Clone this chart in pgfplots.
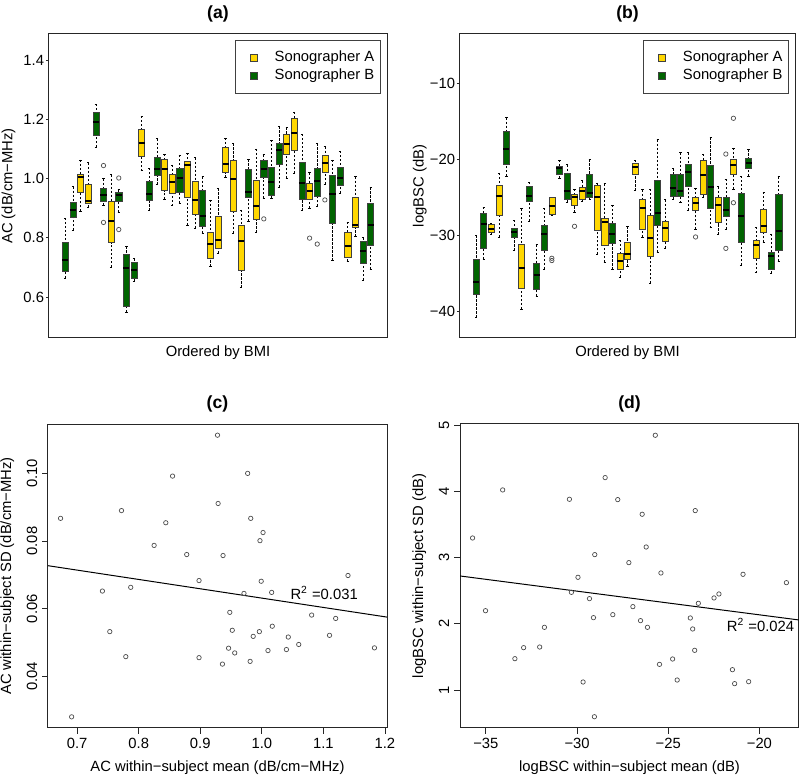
\documentclass[border=0pt]{standalone}
\usepackage{fontspec}
\setmainfont{Liberation Sans}
\usepackage{pgfplots}
\pgfplotsset{compat=1.18}
\usepgfplotslibrary{statistics}
\definecolor{Ygold}{RGB}{255,215,0}
\definecolor{Dgreen}{RGB}{0,100,0}
\newcommand{\fs}{\fontsize{7.4}{8.5}\selectfont}
\newcommand{\ft}{\fontsize{8.8}{10}\selectfont\bfseries}

\pgfplotsset{
  boxplot/draw/lower whisker/.code={%
    \draw[black, line width=0.35pt, dash pattern=on 1.1pt off 0.9pt]
      (boxplot box cs:\pgfplotsboxplotvalue{lower whisker},0.5) --
      (boxplot box cs:\pgfplotsboxplotvalue{lower quartile},0.5);
    \draw[black, line width=0.4pt, solid]
      (boxplot whisker cs:\pgfplotsboxplotvalue{lower whisker},0) --
      (boxplot whisker cs:\pgfplotsboxplotvalue{lower whisker},1);
  },
  boxplot/draw/upper whisker/.code={%
    \draw[black, line width=0.35pt, dash pattern=on 1.1pt off 0.9pt]
      (boxplot box cs:\pgfplotsboxplotvalue{upper whisker},0.5) --
      (boxplot box cs:\pgfplotsboxplotvalue{upper quartile},0.5);
    \draw[black, line width=0.4pt, solid]
      (boxplot whisker cs:\pgfplotsboxplotvalue{upper whisker},0) --
      (boxplot whisker cs:\pgfplotsboxplotvalue{upper whisker},1);
  },
  Rax/.style={scale only axis, height=152pt,
    axis line style={black!85, line width=0.5pt},
    tick align=outside, tick pos=left,
    every tick/.style={black!85, line width=0.4pt},
    tick label style={font=\fs}, label style={font=\fs},
    every axis title/.style={font=\ft, at={(axis description cs:0.5,1.067)}, anchor=center},
    ylabel style={at={(axis description cs:-0.12,0.5)}, anchor=center},
    /pgf/number format/assume math mode=true},
  Rbox/.style={Rax, xmin=-1.14, xmax=43.14, xtick=\empty,
    major tick length=1.5pt,
    yticklabel style={anchor=east, inner sep=0.8pt},
    xlabel={Ordered by BMI},
    xlabel style={at={(axis description cs:0.5,-0.049)}, anchor=center},
    legend cell align=left,
    legend style={anchor=north east, draw=black!75, line width=0.5pt, font=\fs,
      inner xsep=3pt, inner ysep=5.3pt, nodes={inner sep=0pt},
      column sep=2pt, row sep=2.1pt}},
  Rsc/.style={Rax, major tick length=2.8pt,
    yticklabel style={rotate=90, anchor=south, inner sep=2.4pt},
    xticklabel style={inner sep=2pt},
    xlabel style={at={(axis description cs:0.5,-0.13)}, anchor=center}},
  legA/.style={legend image code/.code={\path (0pt,-2pt) (14pt,2pt);
     \draw[fill=Ygold, draw=black!75, line width=0.3pt] (3.85pt,-1.8pt) rectangle (7.45pt,1.8pt);}},
  legB/.style={legend image code/.code={\path (0pt,-2pt) (14pt,2pt);
     \draw[fill=Dgreen, draw=black!75, line width=0.3pt] (3.85pt,-1.8pt) rectangle (7.45pt,1.8pt);}},
}

% \BX{position}{fill}{lower whisker}{lower quartile}{median}{upper quartile}{upper whisker}{outliers}
\newcommand{\BX}[8]{%
  \addplot[forget plot, mark=o, mark size=1.1pt, black!70, mark options={line width=0.35pt},
    boxplot/draw direction=y,
    boxplot/every box/.style={fill=#2, draw=black!75, line width=0.3pt},
    boxplot/every median/.style={black, line width=1pt},
    boxplot prepared={draw direction=y, draw position=#1, lower whisker=#3, lower quartile=#4,
      median=#5, upper quartile=#6, upper whisker=#7, box extend=0.8, whisker extend=0.3}]
    coordinates {#8};
}

\begin{document}
\begin{tikzpicture}
\path[use as bounding box] (0pt,0pt) rectangle (400pt,389pt);

% ---------------- (a) ----------------
\begin{axis}[Rbox, at={(24.5pt,220pt)}, anchor=south west, width=169pt,
  ymin=0.462, ymax=1.488,
  ytick={0.6,0.8,1.0,1.2,1.4}, yticklabels={0.6,0.8,1.0,1.2,1.4},
  ylabel={AC (dB/cm−MHz)}, title={(a)},
  legend style={at={(rel axis cs:0.9814,0.9803)}}]
\addlegendimage{legA}\addlegendentry{Sonographer A}
\addlegendimage{legB}\addlegendentry{Sonographer B}
\BX{1}{Dgreen}{0.664}{0.686}{0.726}{0.786}{0.866}{}
\BX{2}{Dgreen}{0.825}{0.871}{0.894}{0.921}{0.973}{}
\BX{3}{Ygold}{0.889}{0.953}{1.007}{1.015}{1.063}{}
\BX{4}{Ygold}{0.903}{0.917}{0.926}{0.981}{1.053}{}
\BX{5}{Dgreen}{1.106}{1.145}{1.190}{1.224}{1.251}{}
\BX{6}{Dgreen}{0.909}{0.925}{0.943}{0.967}{1.000}{(0,1.044) (0,0.852)}
\BX{7}{Ygold}{0.701}{0.784}{0.857}{0.923}{1.013}{}
\BX{8}{Dgreen}{0.886}{0.923}{0.945}{0.953}{0.962}{(0,1.002) (0,0.828)}
\BX{9}{Dgreen}{0.549}{0.568}{0.698}{0.743}{0.771}{}
\BX{10}{Dgreen}{0.653}{0.662}{0.692}{0.719}{0.729}{}
\BX{11}{Ygold}{1.026}{1.076}{1.121}{1.166}{1.211}{}
\BX{12}{Dgreen}{0.892}{0.926}{0.948}{0.990}{1.035}{}
\BX{13}{Dgreen}{0.980}{1.010}{1.031}{1.072}{1.134}{}
\BX{14}{Ygold}{0.930}{0.959}{1.031}{1.065}{1.082}{}
\BX{15}{Ygold}{0.908}{0.950}{0.990}{1.015}{1.046}{}
\BX{16}{Dgreen}{0.917}{0.953}{1.003}{1.035}{1.079}{}
\BX{17}{Ygold}{0.843}{0.937}{1.046}{1.057}{1.086}{}
\BX{18}{Ygold}{0.832}{0.880}{0.928}{0.992}{1.071}{}
\BX{19}{Dgreen}{0.816}{0.838}{0.874}{0.962}{1.007}{}
\BX{20}{Ygold}{0.703}{0.730}{0.780}{0.820}{0.928}{}
\BX{21}{Ygold}{0.748}{0.765}{0.793}{0.872}{0.967}{}
\BX{22}{Ygold}{1.004}{1.020}{1.048}{1.106}{1.136}{}
\BX{23}{Ygold}{0.816}{0.889}{0.999}{1.061}{1.119}{}
\BX{24}{Ygold}{0.632}{0.692}{0.788}{0.843}{0.894}{}
\BX{25}{Dgreen}{0.856}{0.936}{0.955}{1.033}{1.065}{}
\BX{26}{Ygold}{0.818}{0.861}{0.908}{0.995}{1.100}{}
\BX{27}{Dgreen}{0.934}{1.003}{1.033}{1.063}{1.080}{(0,0.864)}
\BX{28}{Dgreen}{0.934}{0.945}{0.988}{1.038}{1.130}{}
\BX{29}{Dgreen}{0.970}{1.049}{1.097}{1.119}{1.176}{}
\BX{30}{Ygold}{1.001}{1.083}{1.117}{1.150}{1.173}{}
\BX{31}{Ygold}{1.018}{1.094}{1.154}{1.202}{1.225}{}
\BX{32}{Dgreen}{0.892}{0.930}{0.984}{1.055}{1.150}{}
\BX{33}{Ygold}{0.900}{0.930}{0.958}{0.984}{1.020}{(0,0.799)}
\BX{34}{Dgreen}{0.906}{0.939}{0.993}{1.035}{1.119}{(0,0.779)}
\BX{35}{Ygold}{0.982}{1.020}{1.052}{1.077}{1.108}{(0,0.928)}
\BX{36}{Dgreen}{0.723}{0.849}{0.948}{1.010}{1.063}{}
\BX{37}{Dgreen}{0.950}{0.979}{1.001}{1.038}{1.093}{}
\BX{38}{Ygold}{0.720}{0.734}{0.774}{0.819}{0.853}{}
\BX{39}{Ygold}{0.804}{0.835}{0.844}{0.937}{1.007}{}
\BX{40}{Dgreen}{0.658}{0.714}{0.754}{0.788}{0.801}{}
\BX{41}{Dgreen}{0.694}{0.774}{0.845}{0.917}{0.970}{}
\end{axis}

% ---------------- (b) ----------------
\begin{axis}[Rbox, at={(230pt,220pt)}, anchor=south west, width=167.5pt,
  ymin=-43.48, ymax=-3.52,
  ytick={-40,-30,-20,-10}, yticklabels={−40,−30,−20,−10},
  ylabel={logBSC (dB)}, title={(b)},
  legend style={at={(rel axis cs:0.982,0.9803)}}]
\addlegendimage{legA}\addlegendentry{Sonographer A}
\addlegendimage{legB}\addlegendentry{Sonographer B}
\BX{1}{Dgreen}{-40.8}{-37.8}{-36.1}{-33.2}{-30.0}{}
\BX{2}{Dgreen}{-33.1}{-31.7}{-28.5}{-27.1}{-26.3}{}
\BX{3}{Ygold}{-29.8}{-29.6}{-29.1}{-28.5}{-28.4}{}
\BX{4}{Ygold}{-30.2}{-27.4}{-24.8}{-23.4}{-21.8}{}
\BX{5}{Dgreen}{-22.2}{-20.6}{-18.7}{-16.3}{-14.5}{}
\BX{6}{Dgreen}{-32.0}{-30.3}{-29.6}{-29.0}{-28.0}{}
\BX{7}{Ygold}{-39.7}{-36.9}{-34.3}{-31.2}{-26.5}{}
\BX{8}{Dgreen}{-28.1}{-25.5}{-24.8}{-23.5}{-23.0}{}
\BX{9}{Dgreen}{-38.0}{-37.1}{-35.2}{-33.7}{-31.2}{}
\BX{10}{Dgreen}{-34.4}{-31.9}{-29.8}{-28.7}{-26.4}{}
\BX{11}{Ygold}{-27.3}{-27.2}{-26.1}{-25.0}{-25.0}{(0,-33.0) (0,-33.3)}
\BX{12}{Dgreen}{-22.5}{-21.9}{-21.2}{-20.9}{-20.1}{}
\BX{13}{Dgreen}{-25.6}{-25.3}{-24.1}{-21.8}{-20.7}{}
\BX{14}{Ygold}{-27.0}{-26.1}{-25.0}{-24.6}{-23.9}{(0,-28.8)}
\BX{15}{Ygold}{-25.5}{-25.2}{-24.1}{-23.7}{-22.8}{}
\BX{16}{Dgreen}{-25.3}{-25.0}{-24.4}{-22.0}{-20.0}{}
\BX{17}{Ygold}{-32.5}{-29.3}{-25.0}{-23.4}{-23.1}{}
\BX{18}{Ygold}{-33.5}{-31.3}{-28.2}{-27.7}{-23.2}{}
\BX{19}{Dgreen}{-34.5}{-31.0}{-29.8}{-28.4}{-26.0}{}
\BX{20}{Ygold}{-35.5}{-34.5}{-33.3}{-32.4}{-30.6}{}
\BX{21}{Ygold}{-34.1}{-33.1}{-32.5}{-30.9}{-28.8}{}
\BX{22}{Ygold}{-24.1}{-22.0}{-21.0}{-20.5}{-20.1}{}
\BX{23}{Ygold}{-30.2}{-29.2}{-26.4}{-25.2}{-24.0}{}
\BX{24}{Ygold}{-36.3}{-32.7}{-30.3}{-27.4}{-23.9}{}
\BX{25}{Dgreen}{-32.2}{-28.7}{-27.1}{-22.8}{-17.4}{}
\BX{26}{Ygold}{-31.7}{-30.8}{-29.0}{-28.2}{-25.3}{}
\BX{27}{Dgreen}{-25.3}{-24.9}{-23.8}{-21.9}{-21.2}{}
\BX{28}{Dgreen}{-25.7}{-24.8}{-24.1}{-21.9}{-19.1}{}
\BX{29}{Dgreen}{-26.7}{-23.5}{-21.6}{-20.7}{-19.1}{}
\BX{30}{Ygold}{-29.2}{-26.7}{-25.8}{-25.0}{-23.8}{(0,-30.2)}
\BX{31}{Ygold}{-25.0}{-24.6}{-22.1}{-20.1}{-19.3}{}
\BX{32}{Dgreen}{-29.0}{-26.4}{-23.6}{-20.8}{-17.1}{}
\BX{33}{Ygold}{-29.9}{-28.3}{-26.0}{-25.0}{-23.6}{}
\BX{34}{Dgreen}{-29.2}{-27.5}{-26.7}{-25.0}{-22.6}{(0,-19.3) (0,-31.7)}
\BX{35}{Ygold}{-23.9}{-21.9}{-20.8}{-20.0}{-18.5}{(0,-14.6) (0,-25.7)}
\BX{36}{Dgreen}{-33.9}{-30.9}{-27.5}{-24.4}{-22.2}{}
\BX{37}{Dgreen}{-22.2}{-21.2}{-20.5}{-19.9}{-18.7}{}
\BX{38}{Ygold}{-34.9}{-33.0}{-31.3}{-30.6}{-28.9}{}
\BX{39}{Ygold}{-30.9}{-29.6}{-28.7}{-26.5}{-24.3}{}
\BX{40}{Dgreen}{-35.0}{-34.5}{-32.7}{-32.2}{-29.8}{}
\BX{41}{Dgreen}{-33.4}{-32.0}{-29.4}{-24.6}{-22.3}{}
\end{axis}

% ---------------- (c) ----------------
\begin{axis}[Rsc, at={(24pt,25pt)}, anchor=south west, width=169.5pt,
  xmin=0.6526, xmax=1.2034, ymin=0.0247, ymax=0.1146,
  xtick={0.7,0.8,0.9,1.0,1.1,1.2}, xticklabels={0.7,0.8,0.9,1.0,1.1,1.2},
  ytick={0.04,0.06,0.08,0.10}, yticklabels={0.04,0.06,0.08,0.10},
  xlabel={AC within−subject mean (dB/cm−MHz)},
  ylabel={AC within−subject SD (dB/cm−MHz)}, title={(c)}]
\addplot[only marks, mark=o, mark size=1.1pt, black!70, mark options={line width=0.35pt}] coordinates {
(0.673,0.0867) (0.691,0.0280) (0.741,0.0652) (0.753,0.0532) (0.772,0.0890)
(0.779,0.0458) (0.787,0.0663) (0.825,0.0787) (0.844,0.0854) (0.855,0.0992)
(0.878,0.0760) (0.898,0.0683) (0.898,0.0455) (0.928,0.1113) (0.929,0.0911)
(0.936,0.0436) (0.937,0.0757) (0.946,0.0483) (0.948,0.0589) (0.952,0.0536)
(0.956,0.0469) (0.971,0.0645) (0.977,0.1000) (0.981,0.0444) (0.982,0.0867)
(0.986,0.0518) (0.996,0.0532) (0.997,0.0801) (0.999,0.0681) (1.002,0.0825)
(1.010,0.0476) (1.016,0.0648) (1.017,0.0548) (1.040,0.0479) (1.043,0.0516)
(1.060,0.0494) (1.081,0.0581) (1.110,0.0521) (1.120,0.0571) (1.140,0.0698)
(1.183,0.0484)};
\addplot[black, line width=0.5pt] coordinates {(0.6526,0.0727) (1.2034,0.0575)};
\node[anchor=base west, font=\fs, inner sep=0pt] at (axis cs:1.046,0.0627) {R\textsuperscript{2} =0.031};
\end{axis}

% ---------------- (d) ----------------
\begin{axis}[Rsc, at={(230pt,25pt)}, anchor=south west, width=169.5pt,
  xmin=-36.42, xmax=-17.83, ymin=0.427, ymax=5.014,
  xtick={-35,-30,-25,-20}, xticklabels={−35,−30,−25,−20},
  ytick={1,2,3,4,5}, yticklabels={1,2,3,4,5},
  xlabel={logBSC within−subject mean (dB)},
  ylabel={logBSC within−subject SD (dB)}, title={(d)}]
\addplot[only marks, mark=o, mark size=1.1pt, black!70, mark options={line width=0.35pt}] coordinates {
(-35.73,3.294) (-35.02,2.197) (-34.08,4.019) (-33.41,1.473) (-32.93,1.639)
(-32.05,1.649) (-31.79,1.946) (-30.42,3.878) (-30.31,2.474) (-29.95,2.701)
(-29.67,1.121) (-29.32,2.379) (-29.10,2.092) (-29.03,3.043) (-29.05,0.597)
(-28.46,4.205) (-28.04,2.137) (-27.77,3.873) (-27.16,2.922) (-26.94,2.258)
(-26.52,2.047) (-26.43,3.652) (-26.21,3.158) (-26.14,1.946) (-25.71,4.844)
(-25.48,1.387) (-25.40,2.766) (-24.76,1.468) (-24.51,1.151) (-23.79,2.087)
(-23.66,1.921) (-23.55,1.599) (-23.52,3.707) (-23.35,2.308) (-22.49,2.389)
(-22.22,2.449) (-21.48,1.307) (-21.36,1.096) (-20.90,2.746) (-20.59,1.126)
(-18.52,2.620)};
\addplot[black, line width=0.5pt] coordinates {(-36.42,2.721) (-17.83,2.057)};
\node[anchor=base west, font=\fs, inner sep=0pt] at (axis cs:-21.81,1.89) {R\textsuperscript{2} =0.024};
\end{axis}
\end{tikzpicture}
\end{document}
